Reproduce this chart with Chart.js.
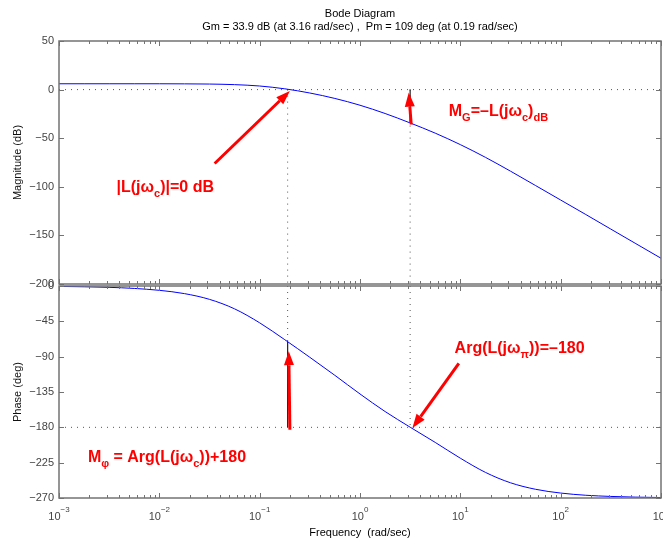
<!DOCTYPE html>
<html>
<head>
<meta charset="utf-8">
<script src="https://cdn.jsdelivr.net/npm/chart.js@4.4.1/dist/chart.umd.min.js"></script>
<style>
  html, body { margin: 0; padding: 0; background: #fff; }
  #wrap { position: relative; width: 663px; height: 544px; overflow: hidden; }
  canvas { position: absolute; left: 0; }
  #magChart { top: 0; }
  #phaseChart { top: 270px; }
</style>
</head>
<body>
<div id="wrap">
  <canvas id="magChart" width="663" height="300"></canvas>
  <canvas id="phaseChart" width="663" height="274"></canvas>
</div>
<script>
// frequency samples (rad/sec), quarter-decade steps
const freq = [0.001, 0.00178, 0.00316, 0.00562, 0.01, 0.0178, 0.0316, 0.0562,
              0.1, 0.178, 0.316, 0.562, 1, 1.78, 3.16, 5.62, 10, 17.8, 31.6,
              56.2, 100, 178, 316, 562, 1000];
// magnitude (dB)
const magDb = [6.0, 6.0, 6.0, 6.0, 6.0, 5.9, 5.7, 5.1,
               3.7, 0.8, -3.5, -9.1, -16.1, -24.6, -34.3, -44.8, -56.6, -69.7, -83.9,
               -98.7, -113.6, -128.5, -143.5, -158.5, -173.5];
// phase (deg)
const phaseDeg = [-0.5, -1.0, -1.7, -3.1, -5.5, -9.7, -17.0, -29.1,
                  -46.9, -68.4, -90.8, -113.8, -137.5, -159.9, -179.8, -199.2, -219.3, -237.4, -250.6,
                  -258.9, -263.7, -266.5, -268.0, -268.9, -269.4];

// axis ticks
const magTicks = [50, 0, -50, -100, -150, -200];
const phaseTicks = [0, -45, -90, -135, -180, -225, -270];
const decades = [-3, -2, -1, 0, 1, 2, 3];

// stability margins
const gmDb = 33.9, wGm = 3.16;
const pmDeg = 109, wPm = 0.19;

const FONT = '"Liberation Sans", Arial, Helvetica, sans-serif';
const RED = '#ff0000';
const AXIS = '#737373';

// annotation arrows: [tail, tip] in data coords
const magArrows = [
    [[0.0356, -76], [0.2, -1.5]],
    [[3.24, -35.9], [3.06, -3.1]]
];
const phaseArrows = [
    [[0.2, -183], [0.195, -83]],
    [[9.66, -98.7], [3.33, -181]]
];

const fmt = v => (v < 0 ? '\u2212' + Math.abs(v) : String(v));

function drawFrame(chart) {
    const { ctx, chartArea: a, scales: { x, y } } = chart;
    ctx.save();
    ctx.strokeStyle = AXIS;
    ctx.lineWidth = 1;
    ctx.beginPath();
    decades.forEach(d => {
        for (let k = 1; k <= 9; k++) {
            const v = k * Math.pow(10, d);
            if (d === 3 && k > 1) break;
            const px = Math.round(x.getPixelForValue(v)) + 0.5;
            const len = k === 1 ? 5 : 3;
            ctx.moveTo(px, a.top); ctx.lineTo(px, a.top + len);
            ctx.moveTo(px, a.bottom); ctx.lineTo(px, a.bottom - len);
        }
    });
    y.ticks.forEach(t => {
        const py = Math.round(y.getPixelForValue(t.value)) + 0.5;
        ctx.moveTo(a.left, py); ctx.lineTo(a.left + 5, py);
        ctx.moveTo(a.right, py); ctx.lineTo(a.right - 5, py);
    });
    ctx.stroke();
    ctx.lineWidth = 1.5;
    ctx.strokeRect(a.left, a.top, a.right - a.left, a.bottom - a.top);
    ctx.restore();
}

function dotted(ctx, x0, y0, x1, y1) {
    ctx.save();
    ctx.strokeStyle = '#555';
    ctx.lineWidth = 1;
    ctx.setLineDash([1, 5]);
    ctx.beginPath();
    ctx.moveTo(x0, y0); ctx.lineTo(x1, y1);
    ctx.stroke();
    ctx.restore();
}

function solid(ctx, x0, y0, x1, y1) {
    ctx.save();
    ctx.strokeStyle = '#222';
    ctx.lineWidth = 1.2;
    ctx.beginPath();
    ctx.moveTo(x0, y0); ctx.lineTo(x1, y1);
    ctx.stroke();
    ctx.restore();
}

function arrow(ctx, x0, y0, x1, y1) {
    const ang = Math.atan2(y1 - y0, x1 - x0), L = 14, W = 5;
    const bx = x1 - L * Math.cos(ang), by = y1 - L * Math.sin(ang);
    ctx.save();
    ctx.strokeStyle = RED; ctx.fillStyle = RED; ctx.lineWidth = 3;
    ctx.beginPath(); ctx.moveTo(x0, y0); ctx.lineTo(bx, by); ctx.stroke();
    ctx.beginPath();
    ctx.moveTo(x1, y1);
    ctx.lineTo(bx + W * Math.sin(ang), by - W * Math.cos(ang));
    ctx.lineTo(bx - W * Math.sin(ang), by + W * Math.cos(ang));
    ctx.closePath(); ctx.fill();
    ctx.restore();
}

function drawArrows(chart, list) {
    const { ctx, scales: { x, y } } = chart;
    list.forEach(([t, h]) => arrow(ctx,
        x.getPixelForValue(t[0]), y.getPixelForValue(t[1]),
        x.getPixelForValue(h[0]), y.getPixelForValue(h[1])));
}

// bold text with subscripts, parts = [text, isSub]
function richText(chart, xv, yv, parts) {
    const { ctx, scales: { x, y } } = chart;
    let cx = x.getPixelForValue(xv);
    const cy = y.getPixelForValue(yv);
    ctx.save();
    ctx.fillStyle = RED;
    ctx.textBaseline = 'alphabetic';
    ctx.textAlign = 'left';
    parts.forEach(([t, sub]) => {
        ctx.font = `bold ${sub ? 11 : 16}px ${FONT}`;
        ctx.fillText(t, cx, cy + (sub ? 5 : 0));
        cx += ctx.measureText(t).width;
    });
    ctx.restore();
}

function yTitle(chart, text) {
    const { ctx, chartArea: a } = chart;
    ctx.save();
    ctx.translate(18, (a.top + a.bottom) / 2);
    ctx.rotate(-Math.PI / 2);
    ctx.font = `11px ${FONT}`;
    ctx.fillStyle = '#111';
    ctx.textAlign = 'center';
    ctx.textBaseline = 'middle';
    ctx.fillText(text, 0, 0);
    ctx.restore();
}

const magPlugin = {
    id: 'magDeco',
    beforeDatasetsDraw(chart) {
        const { ctx, chartArea: a, scales: { x, y } } = chart;
        const y0 = y.getPixelForValue(0);
        dotted(ctx, a.left, y0, a.right, y0);
        dotted(ctx, x.getPixelForValue(wPm), y0, x.getPixelForValue(wPm), a.bottom);
        dotted(ctx, x.getPixelForValue(wGm), y0, x.getPixelForValue(wGm), a.bottom);
        solid(ctx, x.getPixelForValue(wGm), y0, x.getPixelForValue(wGm), y.getPixelForValue(-gmDb));
    },
    afterDraw(chart) {
        const { ctx, chartArea: a } = chart;
        drawFrame(chart);
        drawArrows(chart, magArrows);
        richText(chart, 0.00374, -105, [['|L(j\u03c9'], ['c', 1], [')|=0 dB']]);
        richText(chart, 7.67, -27, [['M'], ['G', 1], ['=\u2013L(j\u03c9'], ['c', 1], [')'], ['dB', 1]]);
        yTitle(chart, 'Magnitude (dB)');
        const cx = (a.left + a.right) / 2;
        ctx.save();
        ctx.font = `11px ${FONT}`;
        ctx.fillStyle = '#000';
        ctx.textAlign = 'center';
        ctx.fillText('Bode Diagram', cx, 17);
        ctx.fillText('Gm = 33.9 dB (at 3.16 rad/sec) ,  Pm = 109 deg (at 0.19 rad/sec)', cx, 30);
        ctx.restore();
    }
};

const phasePlugin = {
    id: 'phaseDeco',
    beforeDatasetsDraw(chart) {
        const { ctx, chartArea: a, scales: { x, y } } = chart;
        const y180 = y.getPixelForValue(-180);
        const yPm = y.getPixelForValue(pmDeg - 180);
        dotted(ctx, a.left, y180, a.right, y180);
        dotted(ctx, x.getPixelForValue(wPm), a.top, x.getPixelForValue(wPm), yPm);
        dotted(ctx, x.getPixelForValue(wGm), a.top, x.getPixelForValue(wGm), y180);
        solid(ctx, x.getPixelForValue(wPm), yPm, x.getPixelForValue(wPm), y180);
    },
    afterDraw(chart) {
        const { ctx, chartArea: a, scales: { x } } = chart;
        drawFrame(chart);
        drawArrows(chart, phaseArrows);
        richText(chart, 8.77, -85.9, [['Arg(L(j\u03c9'], ['\u03c0', 1], ['))=\u2013180']]);
        richText(chart, 0.00194, -223.6, [['M'], ['\u03c6', 1], [' = Arg(L(j\u03c9'], ['c', 1], ['))+180']]);
        yTitle(chart, 'Phase (deg)');
        // log tick labels 10^n
        ctx.save();
        ctx.fillStyle = '#444';
        ctx.textBaseline = 'alphabetic';
        decades.forEach(d => {
            const px = x.getPixelForValue(Math.pow(10, d));
            ctx.font = `11px ${FONT}`;
            const w1 = ctx.measureText('10').width;
            ctx.font = `8px ${FONT}`;
            const sup = d < 0 ? '\u2212' + Math.abs(d) : String(d);
            const w2 = ctx.measureText(sup).width;
            const left = px - (w1 + w2) / 2;
            ctx.font = `11px ${FONT}`;
            ctx.textAlign = 'left';
            ctx.fillText('10', left, a.bottom + 22);
            ctx.font = `8px ${FONT}`;
            ctx.fillText(sup, left + w1, a.bottom + 14);
        });
        ctx.font = `11px ${FONT}`;
        ctx.fillStyle = '#000';
        ctx.textAlign = 'center';
        ctx.fillText('Frequency  (rad/sec)', (a.left + a.right) / 2, a.bottom + 38);
        ctx.restore();
    }
};

function makeChart(id, values, ticks, pad, plugin) {
    return new Chart(document.getElementById(id), {
        type: 'line',
        data: {
            datasets: [{
                data: freq.map((f, i) => ({ x: f, y: values[i] })),
                borderColor: '#0000ff',
                borderWidth: 1,
                pointRadius: 0,
                fill: false,
                cubicInterpolationMode: 'monotone'
            }]
        },
        options: {
            responsive: false,
            animation: false,
            events: [],
            layout: { padding: pad },
            plugins: { legend: { display: false }, tooltip: { enabled: false } },
            scales: {
                x: { type: 'logarithmic', min: 1e-3, max: 1e3, display: false },
                y: {
                    type: 'linear',
                    min: ticks[ticks.length - 1],
                    max: ticks[0],
                    afterBuildTicks: s => { s.ticks = ticks.map(v => ({ value: v })); },
                    afterFit: s => { s.width = 59; },
                    grid: { display: false, drawTicks: false },
                    border: { display: false },
                    ticks: {
                        padding: 5,
                        color: '#444',
                        font: { family: FONT, size: 11 },
                        callback: v => fmt(v)
                    }
                }
            }
        },
        plugins: [plugin]
    });
}

makeChart('magChart', magDb, magTicks, { top: 41, right: 2, bottom: 16, left: 0 }, magPlugin);
makeChart('phaseChart', phaseDeg, phaseTicks, { top: 16, right: 2, bottom: 46, left: 0 }, phasePlugin);
</script>
</body>
</html>
